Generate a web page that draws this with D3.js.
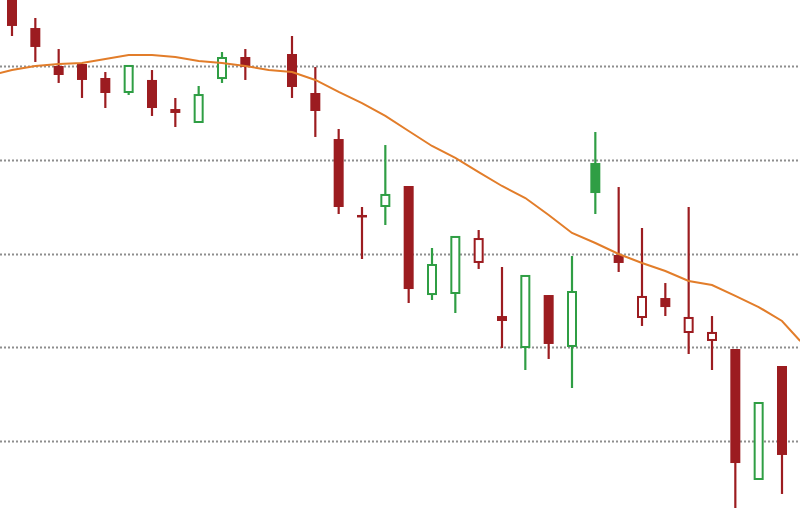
<!DOCTYPE html>
<html>
<head>
<meta charset="utf-8">
<script src="https://cdn.jsdelivr.net/npm/d3@7"></script>
<style>
  html, body { margin: 0; padding: 0; background: #ffffff; }
  svg { display: block; }
</style>
</head>
<body>
<div id="chart"></div>
<script>
// ---- data ----
// trading-day slot index (slot 11 has no candle)
const days   = [0,1,2,3,4,5,6,7,8,9,10,12,13,14,15,16,17,18,19,20,21,22,23,24,25,26,27,28,29,30,31,32,33];
const opens  = [57.25,54.05,50.00,50.21,48.72,47.12,48.51,45.41,43.92,48.61,50.96,51.28,47.12,42.21,34.11,34.96,37.20,25.57,25.68,28.99,23.33,19.92,25.57,20.03,39.65,29.84,23.12,25.25,21.52,20.67,19.81,5.84,18.00];
const highs  = [57.89,55.12,51.81,50.21,49.36,50.11,49.57,46.59,47.87,51.49,51.81,53.20,49.89,43.28,34.96,41.57,37.20,30.59,31.87,32.51,28.56,27.71,25.57,29.73,42.96,37.09,32.72,26.85,34.96,23.33,19.81,14.16,18.00];
const lows   = [53.20,50.43,48.19,46.59,45.52,46.91,44.67,43.49,43.92,48.19,48.51,46.59,42.43,34.21,29.41,33.04,24.72,25.04,23.65,28.35,19.92,17.57,18.75,15.65,34.21,28.03,22.27,23.33,19.28,17.57,2.43,5.84,4.35];
const closes = [54.27,52.03,49.04,48.51,47.12,50.11,45.52,44.99,47.01,50.96,49.89,47.76,45.20,34.96,33.89,36.35,26.21,28.88,31.87,31.65,22.80,27.71,20.35,26.00,36.45,28.99,25.47,24.29,23.23,21.63,7.65,14.16,8.51];

// moving average, sampled at slot positions
const maSlots  = [-0.52,0,1,2,3,4,5,6,7,8,9,10,11,12,13,14,15,16,17,18,19,20,21,22,23,24,25,26,27,28,29,30,31,32,33,33.78];
const maValues = [49.25,49.57,50.00,50.21,50.32,50.75,51.17,51.17,50.96,50.53,50.32,50.00,49.57,49.36,48.51,47.23,46.05,44.67,43.07,41.47,40.19,38.69,37.20,35.92,34.11,32.19,31.12,29.95,28.99,28.13,27.07,26.64,25.47,24.29,22.80,20.67];

const gridValues = [10,20,30,40,50];

// ---- drawing ----
const W = 800, H = 508;
const RED = "#9c1c20", GREEN = "#2f9e44", ORANGE = "#e27d2a";

const svg = d3.select("#chart").append("svg")
  .attr("width", W).attr("height", H);

const x = d3.scaleLinear().domain([0, 33]).range([12, 782]);
const y = d3.scaleLinear().domain([10, 50]).range([441, 66]);

// grid
svg.append("g").selectAll("line").data(gridValues).join("line")
  .attr("x1", 0).attr("x2", W)
  .attr("y1", d => Math.round(y(d)) + 0.5).attr("y2", d => Math.round(y(d)) + 0.5)
  .attr("stroke", "#8e8e8e").attr("stroke-width", 2)
  .attr("stroke-dasharray", "2,2");

const candles = days.map((d, i) => {
  const prev = i > 0 ? closes[i - 1] : opens[i];
  return {
    d, o: opens[i], h: highs[i], l: lows[i], c: closes[i],
    filled: closes[i] < opens[i],
    color: closes[i] >= prev ? GREEN : RED
  };
});

const bodyW = 10;
const g = svg.append("g");
const cg = g.selectAll("g").data(candles).join("g");

cg.append("line")
  .attr("x1", c => x(c.d)).attr("x2", c => x(c.d))
  .attr("y1", c => y(c.h)).attr("y2", c => y(c.l))
  .attr("stroke", c => c.color).attr("stroke-width", 2.2);

cg.append("rect")
  .attr("x", c => x(c.d) - bodyW / 2 + (c.filled ? 0 : 1))
  .attr("width", c => c.filled ? bodyW : bodyW - 2)
  .attr("y", c => y(Math.max(c.o, c.c)) + (c.filled ? 0 : 1))
  .attr("height", c => Math.max(c.filled ? 2.5 : 1, Math.abs(y(c.o) - y(c.c)) - (c.filled ? 0 : 2)))
  .attr("fill", c => c.filled ? c.color : "#ffffff")
  .attr("stroke", c => c.filled ? "none" : c.color)
  .attr("stroke-width", c => c.filled ? 0 : 2);

// moving average
const ma = maSlots.map((s, i) => ({ s, v: maValues[i] }));
svg.append("path")
  .datum(ma)
  .attr("d", d3.line().x(p => x(p.s)).y(p => y(p.v)))
  .attr("fill", "none")
  .attr("stroke", ORANGE)
  .attr("stroke-width", 2);
</script>
</body>
</html>
